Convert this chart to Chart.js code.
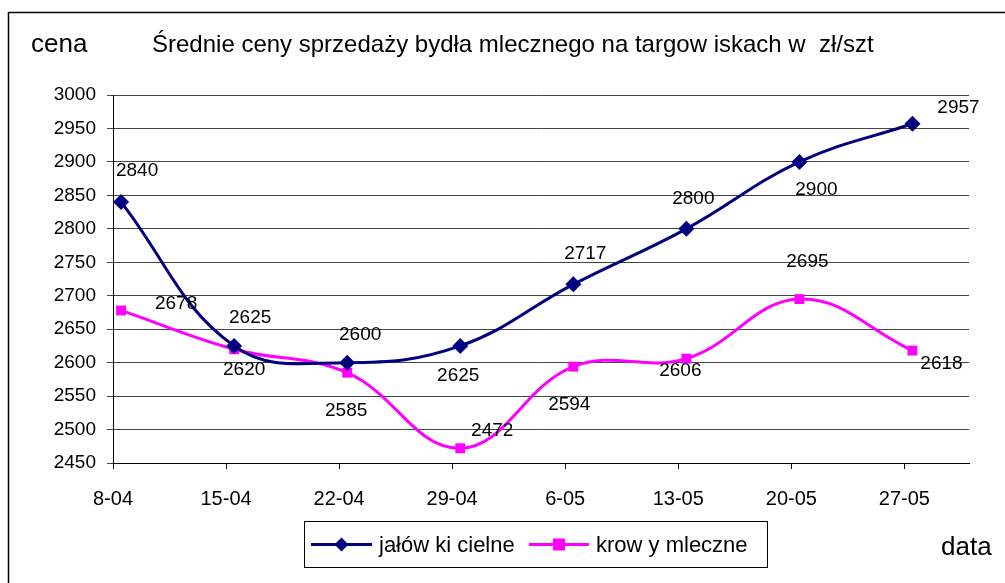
<!DOCTYPE html>
<html><head><meta charset="utf-8">
<script src="https://cdn.jsdelivr.net/npm/chart.js@4/dist/chart.umd.min.js"></script>
<style>html,body{margin:0;padding:0;background:#fff}#wrap{width:1005px;height:583px}</style>
</head><body><div id="wrap"><canvas id="c" width="1005" height="583"></canvas></div>
<script>
// ---- data ----
const tickLabels = ['8-04','15-04','22-04','29-04','6-05','13-05','20-05','27-05'];
const dayOffsets = [0,7,14,21,28,35,42,49];
const jalowki = [2840,2625,2600,2625,2717,2800,2900,2957];
const krowy = [2678,2620,2585,2472,2594,2606,2695,2618];
const seriesNames = ['jałów ki cielne','krow y mleczne'];
const titleText = 'Średnie ceny sprzedaży bydła mlecznego na targow iskach w  zł/szt';
const yAxisTitle = 'cena';
const xAxisTitle = 'data';

// ---- label placement (styling) ----
const labelOffsets = [
  [[16,-31],[16,-28],[13,-28],[-2,30],[12,-31],[7,-30],[17,28],[46,-16]],
  [[55,-7],[10,21],[-1,38],[32,-18],[-4,38],[-6,12],[8,-37],[29,13]]
];
const FONT = '"Liberation Sans", Arial, sans-serif';

const decor = {
  id: 'decor',
  beforeDraw(chart) {
    const ctx = chart.ctx;
    ctx.save();
    ctx.fillStyle = '#fff';
    ctx.fillRect(0, 0, chart.width, chart.height);
    ctx.strokeStyle = '#000';
    ctx.lineWidth = 1.5;
    ctx.beginPath();
    ctx.moveTo(8.5, chart.height);
    ctx.lineTo(8.5, 12.5);
    ctx.lineTo(chart.width, 12.5);
    ctx.stroke();
    ctx.restore();
  },
  afterDatasetsDraw(chart) {
    const ctx = chart.ctx;
    ctx.save();
    ctx.font = '19px ' + FONT;
    ctx.fillStyle = '#000';
    ctx.textAlign = 'center';
    ctx.textBaseline = 'middle';
    chart.data.datasets.forEach((ds, di) => {
      const meta = chart.getDatasetMeta(di);
      meta.data.forEach((pt, i) => {
        const off = labelOffsets[di][i];
        ctx.fillText(String(ds.data[i].y), pt.x + off[0], pt.y + off[1]);
      });
    });
    ctx.restore();
  },
  afterDraw(chart) {
    const ctx = chart.ctx;
    ctx.save();
    ctx.fillStyle = '#000';
    ctx.textBaseline = 'middle';
    ctx.textAlign = 'left';
    ctx.font = '26px ' + FONT;
    ctx.fillText(yAxisTitle, 31, 45);
    ctx.fillText(xAxisTitle, 941, 548);
    ctx.font = '24px ' + FONT;
    ctx.fillText(titleText, 152, 45);
    // legend
    ctx.strokeStyle = '#000';
    ctx.lineWidth = 1;
    ctx.strokeRect(304.5, 521.5, 463, 46);
    const items = [
      {x0: 311, x1: 372, tx: 379},
      {x0: 529, x1: 589, tx: 596}
    ];
    ctx.font = '22px ' + FONT;
    chart.data.datasets.forEach((ds, di) => {
      const it = items[di];
      const y = 544.5;
      ctx.strokeStyle = ds.borderColor;
      ctx.lineWidth = 3;
      ctx.beginPath();
      ctx.moveTo(it.x0, y); ctx.lineTo(it.x1, y); ctx.stroke();
      const cx = (it.x0 + it.x1) / 2;
      ctx.fillStyle = ds.backgroundColor;
      if (ds.pointStyle === 'rectRot') {
        const r = 7;
        ctx.beginPath();
        ctx.moveTo(cx, y - r); ctx.lineTo(cx + r, y); ctx.lineTo(cx, y + r); ctx.lineTo(cx - r, y);
        ctx.closePath(); ctx.fill();
      } else {
        ctx.fillRect(cx - 6, y - 6, 12, 12);
      }
      ctx.fillStyle = '#000';
      ctx.fillText(ds.label, it.tx, y + 1);
    });
    ctx.restore();
  }
};

new Chart(document.getElementById('c'), {
  type: 'line',
  data: {
    datasets: [
      {
        label: seriesNames[0],
        data: dayOffsets.map((d, i) => ({x: d + 0.5, y: jalowki[i]})),
        borderColor: '#000080', backgroundColor: '#000080',
        pointStyle: 'rectRot', pointRadius: 8, pointBorderWidth: 0,
        borderWidth: 3, tension: 0.4
      },
      {
        label: seriesNames[1],
        data: dayOffsets.map((d, i) => ({x: d + 0.5, y: krowy[i]})),
        borderColor: '#FF00FF', backgroundColor: '#FF00FF',
        pointStyle: 'rect', pointRadius: 7, pointBorderWidth: 0,
        borderWidth: 3, tension: 0.4
      }
    ]
  },
  options: {
    responsive: false,
    devicePixelRatio: 1,
    animation: false,
    layout: {padding: {left: 0, top: 95, right: 36, bottom: 0}},
    plugins: {legend: {display: false}, title: {display: false}, tooltip: {enabled: false}},
    scales: {
      x: {
        type: 'linear', min: 0, max: 53,
        afterBuildTicks: (s) => { s.ticks = dayOffsets.map(v => ({value: v})); },
        afterFit: (s) => { s.height = 120; },
        ticks: {
          autoSkip: false, maxRotation: 0, color: '#000', padding: 18,
          font: {family: FONT, size: 20},
          callback: (v) => { const k = dayOffsets.indexOf(v); return k >= 0 ? tickLabels[k] : ''; }
        },
        grid: {drawOnChartArea: false, drawTicks: true, tickLength: 6, color: '#000'},
        border: {color: '#000', width: 1}
      },
      y: {
        min: 2450, max: 3000,
        afterFit: (s) => { s.width = 113; },
        ticks: {stepSize: 50, color: '#000', padding: 11, font: {family: FONT, size: 19},
          callback: (v) => String(v)},
        grid: {color: '#444', tickLength: 6},
        border: {color: '#000', width: 1}
      }
    }
  },
  plugins: [decor]
});
</script></body></html>
